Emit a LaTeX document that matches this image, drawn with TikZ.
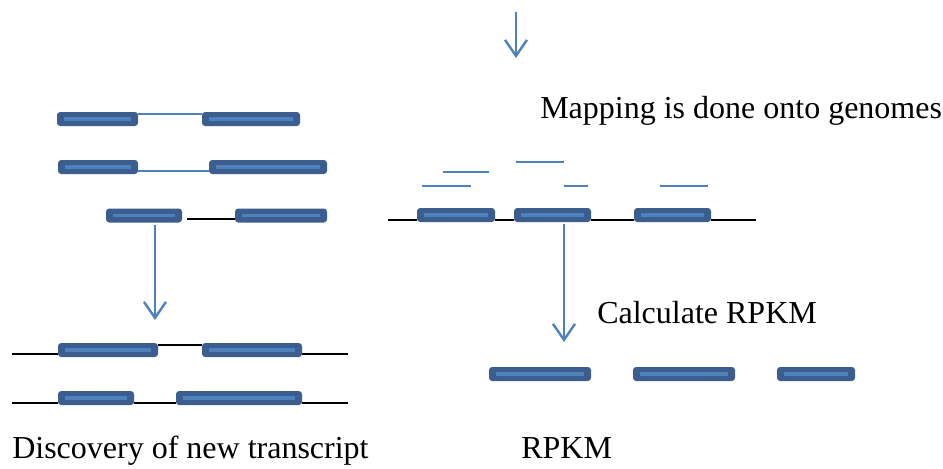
\documentclass[tikz,border=0pt]{standalone}
\usepackage{fontspec}
\setmainfont{Liberation Serif}
\usetikzlibrary{arrows.meta}
\definecolor{exondark}{HTML}{3B5E8E}
\definecolor{exonlight}{HTML}{4F81BD}
\begin{document}
\begin{tikzpicture}[
  x=0.75pt, y=-0.75pt,
  every node/.style={inner sep=0pt},
  exon/.style={rectangle, rounded corners=2pt, draw=exondark, fill=exondark,
    line width=1pt, minimum height=9.5pt, minimum width=#1*0.75pt-1pt,
    path picture={\draw[exonlight, line width=2.4pt]
      ([xshift=4.5pt]path picture bounding box.west) --
      ([xshift=-4.5pt]path picture bounding box.east);}},
  % thin joins: blue for spliced reads, black for the genome
  splice/.style={draw=exonlight, line width=1.1pt},
  genome/.style={draw=black, line width=1.1pt},
  read/.style={draw=exonlight, line width=1.2pt},
  flow/.style={draw=exonlight, line width=1.8pt,
    -{Straight Barb[length=12pt, width=16.5pt, line width=1.8pt]}},
  caption/.style={anchor=base west, font=\fontsize{24pt}{29pt}\selectfont}]

  \useasboundingbox (0,0) rectangle (943,468);

  % spliced transcripts (top left)
  \node[exon=81]  (a1) at (97.5,119) {};
  \node[exon=98]  (a2) at (251,119) {};
  \node[exon=80]  (b1) at (98,167) {};
  \node[exon=118] (b2) at (268,167) {};
  \node[exon=76]  (c1) at (144,215.5) {};
  \node[exon=92]  (c2) at (281,215.5) {};

  \draw[splice] ([yshift=3.75pt]a1.east) -- ([yshift=3.75pt]a2.west);
  \draw[splice] ([yshift=-3pt]b1.east) -- ([yshift=-3pt]b2.west);
  \draw[genome] ([xshift=3.75pt, yshift=-2.6pt]c1.east) -- ([yshift=-2.6pt]c2.west);

  % reads mapped onto the genome (top right)
  \node[exon=78] (m1) at (456,215) {};
  \node[exon=77] (m2) at (552.5,215) {};
  \node[exon=77] (m3) at (672.5,215) {};
  \coordinate (gl) at (388,220);
  \coordinate (gr) at (756,220);
  \draw[genome] (gl) -- (gl -| m1.west);
  \draw[genome] ([yshift=-3.75pt]m1.east) -- ([yshift=-3.75pt]m2.west);
  \draw[genome] ([yshift=-3.75pt]m2.east) -- ([yshift=-3.75pt]m3.west);
  \draw[genome] ([yshift=-3.75pt]m3.east) -- (gr);

  \draw[read] (422,186) -- (471,186);
  \draw[read] (443,172) -- (489,172);
  \draw[read] (516,162) -- (564,162);
  \draw[read] (564,186) -- (588,186);
  \draw[read] (660,186) -- (708,186);

  % new transcripts (bottom left)
  \node[exon=100] (d1) at (108,350) {};
  \node[exon=100] (d2) at (252,350) {};
  \node[exon=76]  (e1) at (96,398) {};
  \node[exon=126] (e2) at (239,398) {};
  \coordinate (dl) at (12,354);
  \coordinate (dr) at (348,354);
  \coordinate (el) at (12,403);
  \coordinate (er) at (348,403);
  \draw[genome] (dl) -- (dl -| d1.west);
  \draw[genome] ([yshift=3.75pt]d1.east) -- ([yshift=3.75pt]d2.west);
  \draw[genome] (dr -| d2.east) -- (dr);
  \draw[genome] (el) -- (el -| e1.west);
  \draw[genome] (el -| e1.east) -- (el -| e2.west);
  \draw[genome] (er -| e2.east) -- (er);

  % expression (bottom right)
  \node[exon=102] (r1) at (540,374) {};
  \node[exon=102] (r2) at (684,374) {};
  \node[exon=78]  (r3) at (816,374) {};

  % arrows
  \coordinate (topa) at (516,12);
  \coordinate (topb) at (516,58);
  \coordinate (lefttip) at (155,320);
  \coordinate (righttip) at (564,342);
  \draw[flow] (topa) -- (topb);
  \draw[flow] ([yshift=-1.5pt]c1.south -| lefttip) -- (lefttip);
  \draw[flow] ([yshift=-1.5pt]m2.south -| righttip) -- (righttip);

  % labels
  \node[caption] (map)  at (540,118) {Mapping is done onto genomes};
  \node[caption] (calc) at (597,323) {Calculate RPKM};
  \node[caption] (disc) at (12,458)  {Discovery of new transcript};
  \node[caption] (rpkm) at (521,458) {RPKM};
\end{tikzpicture}
\end{document}
